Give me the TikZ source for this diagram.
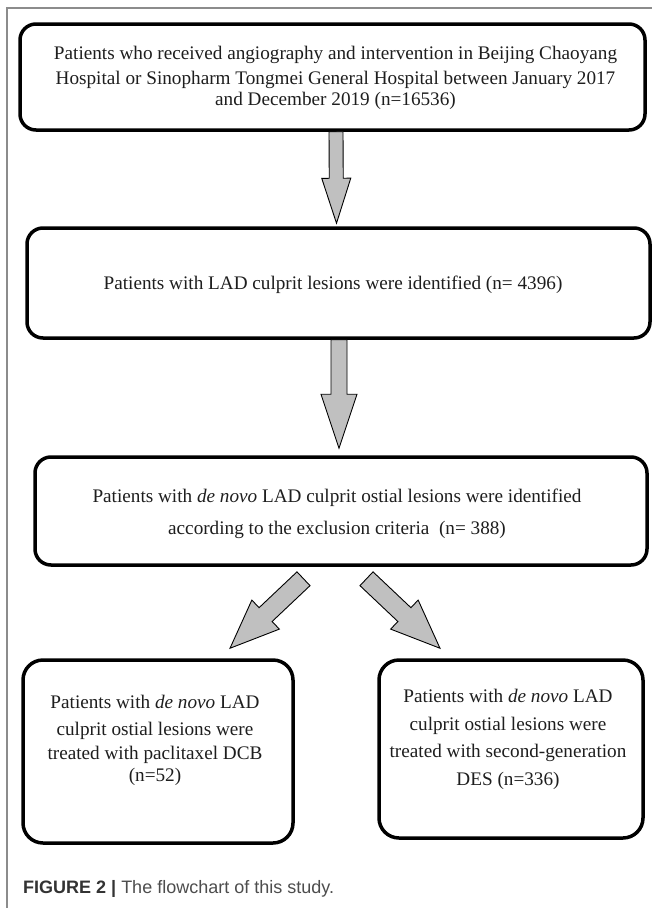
\documentclass[tikz,border=0pt]{standalone}
\usepackage{fontspec}
\setmainfont{Liberation Serif}
\newfontfamily\capfont{Liberation Sans}
\usetikzlibrary{calc}
\definecolor{framegray}{HTML}{8C8C8C}
\definecolor{arrowfill}{HTML}{C0C0C0}
\definecolor{txtcol}{HTML}{1E1E1E}
\definecolor{capbold}{HTML}{333333}
\definecolor{capreg}{HTML}{4D4D4D}
% #1 name, #2 tail coordinate, #3 tip coordinate, #4 half shaft width, #5 half head width, #6 head length
\newcommand{\blockarrow}[6]{%
  \coordinate (#1-n) at ($(#3)!#6!(#2)$);
  \draw[blockarrowstyle] ($(#2)!#4!90:(#3)$) -- ($(#1-n)!#4!90:(#3)$) -- ($(#1-n)!#5!90:(#3)$)
    -- (#3) -- ($(#1-n)!#5!-90:(#3)$) -- ($(#1-n)!#4!-90:(#3)$) -- ($(#2)!#4!-90:(#3)$) -- cycle;
}
\begin{document}
\begin{tikzpicture}[x=1pt,y=-1pt,
  flowbox/.style={draw=black, line width=3.5pt, rounded corners=16pt, inner sep=0pt},
  bigbox/.style={flowbox, rounded corners=20pt},
  boxtext/.style={text=txtcol, font=\fontsize{19.2}{24}\selectfont, inner sep=0pt, anchor=base},
  blockarrowstyle/.style={draw=black, line width=0.9pt, fill=arrowfill, line join=miter},
  frameline/.style={draw=framegray, line width=1.3pt}]
\useasboundingbox (0,0) rectangle (652,908);
\fill[white] (0,0) rectangle (652,908);
\draw[frameline] (7,908) -- (7,8) -- (652,8);

% boxes
\node[flowbox, minimum width=625pt, minimum height=106pt] (b1) at (332.5,77) {};
\node[flowbox, minimum width=623pt, minimum height=110pt] (b2) at (338.5,283) {};
\node[flowbox, minimum width=612pt, minimum height=108pt] (b3) at (341,511) {};
\node[bigbox, minimum width=270pt, minimum height=183pt] (b4) at (158,751.5) {};
\node[bigbox, minimum width=264pt, minimum height=178pt] (b5) at (511,749) {};

% texts
\node[boxtext] (t1a) at (335.5,59) {Patients who received angiography and intervention in Beijing Chaoyang};
\node[boxtext] (t1b) at (335.5,84) {Hospital or Sinopharm Tongmei General Hospital between January 2017};
\node[boxtext] (t1c) at (335.5,105) {and December 2019 (n=16536)};
\node[boxtext] (t2) at (333,289) {Patients with LAD culprit lesions were identified (n= 4396)};
\node[boxtext] (t3a) at (337,502) {Patients with \textit{de novo} LAD culprit ostial lesions were identified};
\node[boxtext] (t3b) at (337,534) {according to the exclusion criteria~ (n= 388)};
\node[boxtext] (t4a) at (155,708) {Patients with \textit{de novo} LAD};
\node[boxtext] (t4b) at (155,735) {culprit ostial lesions were};
\node[boxtext] (t4c) at (155,759) {treated with paclitaxel DCB};
\node[boxtext] (t4d) at (155,781) {(n=52)};
\node[boxtext] (t5a) at (508,702) {Patients with \textit{de novo} LAD};
\node[boxtext] (t5b) at (508,730) {culprit ostial lesions were};
\node[boxtext] (t5c) at (508,757) {treated with second-generation};
\node[boxtext] (t5d) at (508,785) {DES (n=336)};

% arrow end points
\coordinate (a1t) at ($(b1.south)+(3.5,0)$);
\coordinate (a1h) at ($(b2.north)+(-2,-3)$);
\coordinate (a2t) at ($(b2.south)+(0.5,0)$);
\coordinate (a2h) at ($(b3.north)+(-2,-7)$);
\coordinate (a3t) at ($(b3.south)+(-37.5,12)$);
\coordinate (a3h) at ($(b4.north)+(72,-10)$);
\coordinate (a4t) at ($(b3.south)+(25.5,12)$);
\coordinate (a4h) at ($(b5.north)+(-71,-10)$);

\blockarrow{a1}{a1t}{a1h}{7pt}{14.5pt}{45pt}
\blockarrow{a2}{a2t}{a2h}{8pt}{18pt}{54pt}
\blockarrow{a3}{a3t}{a3h}{9.5pt}{20pt}{49pt}
\blockarrow{a4}{a4t}{a4h}{9.5pt}{20pt}{49pt}

% caption
\node[anchor=base west, inner sep=0pt] (cap) at (23,893)
  {\capfont\fontsize{18}{22}\selectfont\textcolor{capbold}{\bfseries FIGURE 2 |} \textcolor{capreg}{The flowchart of this study.}};
\end{tikzpicture}
\end{document}
